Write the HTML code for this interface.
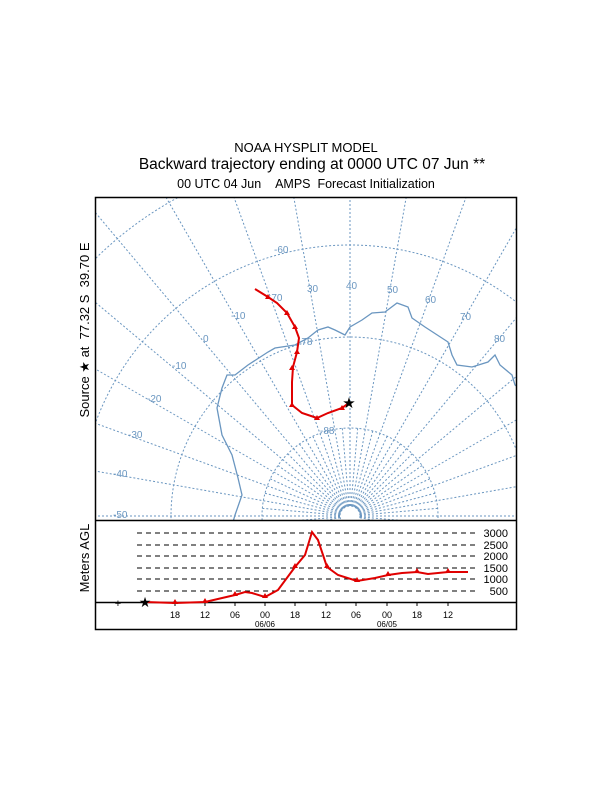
<!DOCTYPE html>
<html><head><meta charset="utf-8"><style>
html,body{margin:0;padding:0;background:#fff;width:612px;height:792px;overflow:hidden;}
svg{display:block;font-family:"Liberation Sans",Arial,sans-serif;}
</style></head><body>
<svg id="s" width="612" height="792" viewBox="0 0 612 792" xmlns="http://www.w3.org/2000/svg">
<defs><clipPath id="mc"><rect x="96" y="198" width="420" height="322"/></clipPath></defs>
<text x="306" y="152" font-size="13" text-anchor="middle">NOAA HYSPLIT MODEL</text>
<text x="312" y="169" font-size="15.5" text-anchor="middle">Backward trajectory ending at 0000 UTC 07 Jun **</text>
<text x="306" y="188" font-size="12.5" text-anchor="middle">00 UTC 04 Jun&#160;&#160;&#160;&#160;AMPS&#160;&#160;Forecast Initialization</text>
<g id="grid" clip-path="url(#mc)" stroke="#6a96c0" stroke-width="1" fill="none" stroke-dasharray="2,2"></g>
<g clip-path="url(#mc)">
<polyline fill="none" stroke="#6a96c0" stroke-width="1.3" points="233,522 235,515 242,495 238,478 232,455 222,435 217,408 222,388 227,375 235,375 248,365 268,352 275,348 295,345 308,338 318,330 328,327 335,330 345,335 350,327 362,320 372,313 385,312 397,303 408,307 412,318 425,327 448,342 452,355 457,365 472,367 488,362 495,355 500,365 512,375 515,385 518,387"/>
</g>
<g font-size="10" fill="#6a96c0">
<text x="274" y="253">-60</text><text x="307" y="292">30</text><text x="346" y="289">40</text><text x="387" y="293">50</text><text x="425" y="303">60</text><text x="460" y="320">70</text><text x="494" y="342">80</text>
<text x="268" y="301">-70</text><text x="231" y="319">-10</text><text x="203" y="342">0</text><text x="172" y="369">-10</text><text x="147" y="402">-20</text><text x="128" y="438">-30</text><text x="113" y="477">-40</text><text x="113" y="518">-50</text><text x="298" y="345">-78</text><text x="320" y="434">-88</text>
</g>
<polyline fill="none" stroke="#e00000" stroke-width="2" points="255,289 268,297 277,303 287,313 295,327 299,338 297,352 293,367 292,382 292,405 302,413 317,418 328,413 342,408 349,403"/>
<g fill="#e00000"><path d="M268,294 l3,5 h-6z"/><path d="M287,310 l3,5 h-6z"/><path d="M295,324 l3,5 h-6z"/><path d="M297,349 l3,5 h-6z"/><path d="M292,365 l3,5 h-6z"/><path d="M292,402 l3,5 h-6z"/><path d="M317,415 l3,5 h-6z"/><path d="M342,405 l3,5 h-6z"/></g>
<text x="349" y="408" font-size="15" text-anchor="middle">★</text>
<rect x="95.5" y="197.5" width="421" height="432" fill="none" stroke="#000" stroke-width="1.5"/>
<line x1="95" y1="520.5" x2="517" y2="520.5" stroke="#000" stroke-width="1.5"/>
<text transform="translate(89,330) rotate(-90)" font-size="13" text-anchor="middle">Source&#160;★&#160;at&#160;&#160;77.32 S&#160;&#160;39.70 E</text>
<text transform="translate(89,558) rotate(-90)" font-size="13" text-anchor="middle">Meters AGL</text>
<g stroke="#000" stroke-dasharray="5,4" stroke-width="1">
<line x1="137" y1="533" x2="475" y2="533"/><line x1="137" y1="545" x2="475" y2="545"/><line x1="137" y1="556" x2="475" y2="556"/><line x1="137" y1="568" x2="475" y2="568"/><line x1="137" y1="579" x2="475" y2="579"/><line x1="137" y1="591" x2="475" y2="591"/>
</g>
<g font-size="11" text-anchor="end"><text x="508" y="537">3000</text><text x="508" y="549">2500</text><text x="508" y="560">2000</text><text x="508" y="572">1500</text><text x="508" y="583">1000</text><text x="508" y="595">500</text></g>
<line x1="95" y1="602.5" x2="517" y2="602.5" stroke="#000" stroke-width="1.5"/>
<g stroke="#000" id="ticks"></g>
<g font-size="9" text-anchor="middle"><text x="175" y="618">18</text><text x="205" y="618">12</text><text x="235" y="618">06</text><text x="265" y="618">00</text><text x="295" y="618">18</text><text x="326" y="618">12</text><text x="356" y="618">06</text><text x="387" y="618">00</text><text x="417" y="618">18</text><text x="448" y="618">12</text>
<text x="265" y="627" font-size="8">06/06</text><text x="387" y="627" font-size="8">06/05</text></g>
<polyline fill="none" stroke="#e00000" stroke-width="2" points="145,602 175,603 205,602 235,595 245,592 252,593 265,597 278,590 295,567 305,555 312,532 318,540 327,567 338,575 357,581 375,578 388,575 402,573 417,572 428,574 448,572 468,572"/>
<g fill="#e00000"><path d="M175,599 l3,5 h-6z"/><path d="M205,598 l3,5 h-6z"/><path d="M235,591 l3,5 h-6z"/><path d="M265,593 l3,5 h-6z"/><path d="M295,563 l3,5 h-6z"/><path d="M327,563 l3,5 h-6z"/><path d="M357,577 l3,5 h-6z"/><path d="M388,571 l3,5 h-6z"/><path d="M417,568 l3,5 h-6z"/><path d="M448,568 l3,5 h-6z"/></g>
<text x="145" y="607" font-size="14" text-anchor="middle">★</text>
<text x="118" y="607" font-size="11" text-anchor="middle">+</text>
</svg>
<script>
var g=document.getElementById('grid'),cx=350,cy=516,ns='http://www.w3.org/2000/svg';
function el(t,a){var e=document.createElementNS(ns,t);for(var k in a)e.setAttribute(k,a[k]);g.appendChild(e);}
[88,179,271,362].forEach(function(r){el('circle',{cx:cx,cy:cy,r:r});});
el('circle',{cx:cx,cy:cy,r:10});
for(var a=-100;a<=100;a+=5){var t=a*Math.PI/180,big=(a%10==0),r0=10,r1=big?700:88;
el('line',{x1:cx+r0*Math.sin(t),y1:cy-r0*Math.cos(t),x2:cx+r1*Math.sin(t),y2:cy-r1*Math.cos(t)});}
var tk=document.getElementById('ticks');
[175,205,235,265,295,326,356,387,417,448].forEach(function(x){var l=document.createElementNS(ns,'line');l.setAttribute('x1',x);l.setAttribute('x2',x);l.setAttribute('y1',602);l.setAttribute('y2',606);tk.appendChild(l);});
</script>
</body></html>
